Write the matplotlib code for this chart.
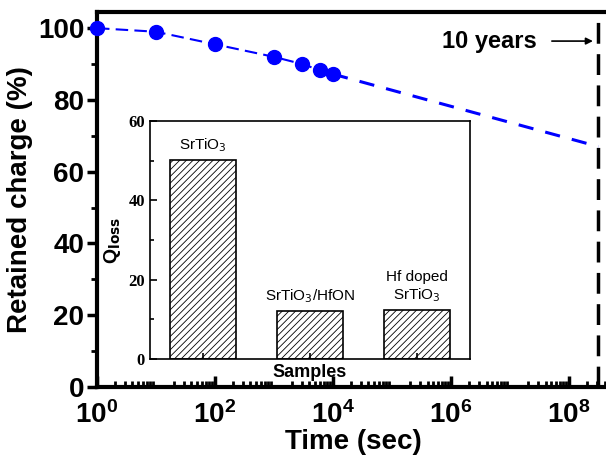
import matplotlib
matplotlib.use("Agg")
import matplotlib.pyplot as plt
from matplotlib.ticker import LogLocator, NullFormatter, MultipleLocator

# retention data
time_s = [1, 10, 100, 1e3, 3e3, 6e3, 1e4]
retained = [100.0, 99.0, 95.5, 92.0, 90.0, 88.3, 87.2]
extrap_t = [1e4, 3.15e8]
extrap_v = [87.2, 67.0]
ten_years = 3.15e8

# inset data
samples = ["SrTiO$_3$", "SrTiO$_3$/HfON", "Hf doped\nSrTiO$_3$"]
q_loss = [50.2, 12.2, 12.4]

plt.rcParams["font.family"] = ["Liberation Sans", "DejaVu Sans"]
plt.rcParams["hatch.linewidth"] = 0.6

fig = plt.figure(figsize=(6.06, 4.62), dpi=100)
ax = fig.add_axes([0.160, 0.1623, 0.8466, 0.8117])

ax.plot(time_s, retained, color="blue", lw=1.5, ls=(0, (6, 3)), zorder=2)
ax.plot(extrap_t, extrap_v, color="blue", lw=2.2, ls=(0, (5, 4)), zorder=2)
ax.plot(time_s, retained, "o", color="blue", ms=10, zorder=3, clip_on=False)
ax.axvline(ten_years, color="black", lw=2.5, ls=(0, (6, 3)))

ax.annotate("", xy=(ten_years * 0.9, 96.4), xytext=(4.6e7, 96.4),
            arrowprops=dict(arrowstyle="-|>", color="black", lw=1.2,
                            mutation_scale=10))
ax.text(4.5e6, 96.4, "10 years", fontsize=17, fontweight="bold",
        ha="center", va="center")

ax.set_xscale("log")
ax.set_xlim(1, 10 ** 8.695)
ax.set_ylim(0, 104.5)
ax.set_xticks([1, 1e2, 1e4, 1e6, 1e8])
ax.xaxis.set_minor_locator(LogLocator(base=10, subs=range(2, 10), numticks=20))
ax.xaxis.set_minor_formatter(NullFormatter())
ax.yaxis.set_major_locator(MultipleLocator(20))
ax.yaxis.set_minor_locator(MultipleLocator(10))

ax.tick_params(axis="x", which="major", direction="in", length=8, width=2.5,
               labelsize=20, pad=10)
ax.tick_params(axis="x", which="minor", direction="in", length=4, width=2)
ax.tick_params(axis="y", which="major", direction="out", length=7, width=2.5,
               labelsize=20, pad=2)
ax.tick_params(axis="y", which="minor", direction="out", length=4, width=2)
for lab in ax.get_xticklabels() + ax.get_yticklabels():
    lab.set_fontweight("bold")
for sp in ax.spines.values():
    sp.set_linewidth(3)
ax.spines["right"].set_visible(False)

ax.set_xlabel("Time (sec)", fontsize=20, fontweight="bold", labelpad=0)
ax.set_ylabel("Retained charge (%)", fontsize=20, fontweight="bold", labelpad=4)

# inset
ins = fig.add_axes([0.2475, 0.223, 0.528, 0.515])
pos = range(len(samples))
ins.bar(pos, q_loss, width=0.62, color="white", edgecolor="black", hatch="/////",
        lw=1.2)
for p, v, s in zip(pos, q_loss, samples):
    ins.text(p, v + 1.5, s, ha="center", va="bottom", fontsize=11)
ins.set_xlim(-0.5, 2.5)
ins.set_ylim(0, 60)
ins.set_xticks(list(pos))
ins.set_xticklabels([])
ins.set_yticks([0, 20, 40, 60])
ins.yaxis.set_minor_locator(MultipleLocator(10))
ins.tick_params(axis="x", direction="in", length=4, width=1.2)
ins.tick_params(axis="y", which="major", direction="in", length=5, width=1.2,
                labelsize=12)
ins.tick_params(axis="y", which="minor", direction="in", length=3, width=1.2)
for lab in ins.get_yticklabels():
    lab.set_fontweight("bold")
    lab.set_family("Liberation Serif")
for sp in ins.spines.values():
    sp.set_linewidth(1.2)
ins.set_xlabel("Samples", fontsize=13, fontweight="bold", labelpad=0)
ins.set_ylabel("Q$_{\\mathbf{loss}}$", fontsize=14, fontweight="bold", labelpad=4)

fig.savefig("out.png", dpi=100)
